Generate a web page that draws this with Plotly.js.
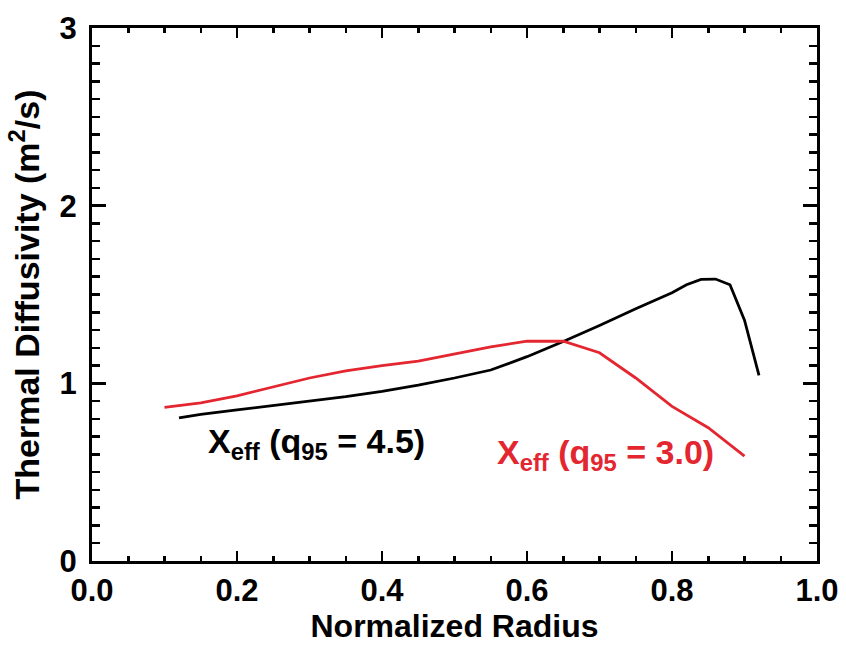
<!DOCTYPE html>
<html>
<head>
<meta charset="utf-8">
<script src="https://cdn.plot.ly/plotly-3.0.1.min.js"></script>
<style>html,body{margin:0;padding:0;background:#fff;}#chart{width:846px;height:647px;}</style>
</head>
<body>
<div id="chart"></div>
<script>
// Series: q95 = 4.5 (black)
const radiusA = [0.12, 0.15, 0.2, 0.25, 0.3, 0.35, 0.4, 0.45, 0.5, 0.55, 0.6, 0.65, 0.7, 0.75, 0.8, 0.82, 0.84, 0.86, 0.88, 0.9, 0.92];
const chiA    = [0.805, 0.825, 0.85, 0.875, 0.90, 0.925, 0.955, 0.99, 1.03, 1.075, 1.15, 1.235, 1.325, 1.42, 1.51, 1.555, 1.585, 1.587, 1.555, 1.355, 1.045];
// Series: q95 = 3.0 (red)
const radiusB = [0.1, 0.15, 0.2, 0.25, 0.3, 0.35, 0.4, 0.45, 0.5, 0.55, 0.6, 0.65, 0.7, 0.75, 0.8, 0.85, 0.9];
const chiB    = [0.865, 0.89, 0.93, 0.98, 1.03, 1.07, 1.10, 1.125, 1.165, 1.205, 1.237, 1.237, 1.172, 1.03, 0.87, 0.75, 0.59];
// Labels
const labelA = "X<sub>eff</sub> (q<sub>95</sub> = 4.5)";
const labelB = "X<sub>eff</sub> (q<sub>95</sub> = 3.0)";
const xTicks = [0, 0.2, 0.4, 0.6, 0.8, 1.0];
const xTickText = ["0.0", "0.2", "0.4", "0.6", "0.8", "1.0"];
const yTicks = [0, 1, 2, 3];
const yTickText = ["0", "1", "2", "3"];

const RED = "#e3262f";
const FONT = "Liberation Sans, Arial, sans-serif";

const traces = [
  {x: radiusA, y: chiA, mode: "lines", line: {color: "#000", width: 2.8}, hoverinfo: "skip"},
  {x: radiusB, y: chiB, mode: "lines", line: {color: RED, width: 2.8}, hoverinfo: "skip"}
];

const layout = {
  width: 846, height: 647,
  margin: {l: 92, r: 29, t: 28, b: 86, pad: 0},
  paper_bgcolor: "#fff", plot_bgcolor: "#fff",
  showlegend: false,
  font: {family: FONT, size: 31, color: "#000", weight: "bold"},
  xaxis: {
    range: [0, 1], tickvals: xTicks, ticktext: xTickText,
    showgrid: false, zeroline: false,
    showline: true, linecolor: "#000", linewidth: 3, mirror: "ticks",
    ticks: "inside", ticklen: 10, tickwidth: 2.5, tickcolor: "#000",
    minor: {dtick: 0.05, ticks: "inside", ticklen: 5, tickwidth: 2.5, tickcolor: "#000", showgrid: false},
    tickfont: {family: FONT, size: 31, weight: "bold"},
    ticklabelstandoff: 0,
    title: {text: "Normalized Radius", font: {family: FONT, size: 32, weight: "bold"}, standoff: 8}
  },
  yaxis: {
    range: [0, 3], tickvals: yTicks, ticktext: yTickText,
    showgrid: false, zeroline: false,
    showline: true, linecolor: "#000", linewidth: 3, mirror: "ticks",
    ticks: "inside", ticklen: 14, tickwidth: 2.5, tickcolor: "#000",
    minor: {dtick: 0.1, ticks: "inside", ticklen: 8, tickwidth: 2.5, tickcolor: "#000", showgrid: false},
    tickfont: {family: FONT, size: 31, weight: "bold"},
    ticklabelstandoff: 6,
    title: {text: "Thermal Diffusivity (m<sup>2</sup>/s)", font: {family: FONT, size: 34, weight: "bold"}, standoff: 10}
  },
  annotations: [
    {x: 0.31, y: 0.664, xref: "x", yref: "y", text: labelA, showarrow: false,
     font: {family: FONT, size: 34, color: "#000", weight: "bold"}, xanchor: "center", yanchor: "middle"},
    {x: 0.708, y: 0.597, xref: "x", yref: "y", text: labelB, showarrow: false,
     font: {family: FONT, size: 34, color: RED, weight: "bold"}, xanchor: "center", yanchor: "middle"}
  ]
};

Plotly.newPlot("chart", traces, layout, {staticPlot: true, displayModeBar: false});
</script>
</body>
</html>
